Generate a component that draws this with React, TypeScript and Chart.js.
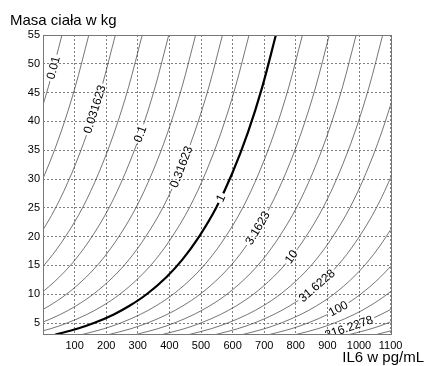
import React, { useEffect, useRef } from 'react';
import { Chart, registerables } from 'chart.js';

Chart.register(...registerables);

// Mass (kg) sample points along each contour line
const MASS = [3, 4, 5, 6.5, 8, 10, 13, 16, 20, 25, 31, 38, 46, 55];

// Contour levels (quarter-decade steps), level 1 drawn thick
const LEVELS = [
  0.01, 0.017783, 0.031623, 0.056234, 0.1, 0.17783, 0.31623, 0.56234, 1,
  1.7783, 3.1623, 5.6234, 10, 17.783, 31.6228, 56.2341, 100, 177.8279,
  316.2278, 562.3413, 1000,
];

// IL6 (pg/mL) position of each contour line at the MASS sample points
const IL6_LINES = [
  [-638, -569, -516, -453, -403, -349, -286, -236, -183, -129, -78, -29, 17, 60],
  [-553, -484, -431, -368, -318, -264, -201, -151, -98, -44, 7, 56, 102, 145],
  [-469, -400, -347, -284, -234, -180, -117, -67, -14, 40, 91, 140, 186, 229],
  [-384, -315, -262, -199, -149, -95, -32, 18, 71, 125, 176, 225, 271, 314],
  [-300, -231, -178, -115, -65, -11, 52, 102, 155, 209, 260, 309, 355, 398],
  [-215, -146, -93, -30, 20, 74, 137, 187, 240, 294, 345, 394, 440, 483],
  [-130, -61, -8, 55, 105, 159, 222, 272, 325, 379, 430, 479, 525, 568],
  [-46, 23, 76, 139, 189, 243, 306, 356, 409, 463, 514, 563, 609, 652],
  [39, 108, 161, 224, 274, 328, 391, 441, 494, 548, 599, 648, 694, 737],
  [123, 192, 245, 308, 358, 412, 475, 525, 578, 632, 683, 732, 778, 821],
  [208, 277, 330, 393, 443, 497, 560, 610, 663, 717, 768, 817, 863, 906],
  [293, 362, 415, 478, 528, 582, 645, 695, 748, 802, 853, 902, 948, 991],
  [377, 446, 499, 562, 612, 666, 729, 779, 832, 886, 937, 986, 1032, 1075],
  [462, 531, 584, 647, 697, 751, 814, 864, 917, 971, 1022, 1071, 1117, 1160],
  [546, 615, 668, 731, 781, 835, 898, 948, 1001, 1055, 1106, 1155, 1201, 1244],
  [631, 700, 753, 816, 866, 920, 983, 1033, 1086, 1140, 1191, 1240, 1286, 1329],
  [716, 785, 838, 901, 951, 1005, 1068, 1118, 1171, 1225, 1276, 1325, 1371, 1414],
  [800, 869, 922, 985, 1035, 1089, 1152, 1202, 1255, 1309, 1360, 1409, 1455, 1498],
  [885, 954, 1007, 1070, 1120, 1174, 1237, 1287, 1340, 1394, 1445, 1494, 1540, 1583],
  [969, 1038, 1091, 1154, 1204, 1258, 1321, 1371, 1424, 1478, 1529, 1578, 1624, 1667],
  [1054, 1123, 1176, 1239, 1289, 1343, 1406, 1456, 1509, 1563, 1614, 1663, 1709, 1752],
];

// Inline contour labels: which line, text, and the mass where the label sits
const LABEL_LINE = [0, 2, 4, 6, 8, 10, 12, 14, 16, 18];
const LABEL_TEXT = ['0.01', '0.031623', '0.1', '0.31623', '1', '3.1623', '10', '31.6228', '100', '316.2278'];
const LABEL_MASS = [49.3, 42.1, 37.8, 32.1, 26.7, 21.5, 16.5, 11.5, 7.5, 4.27];

const X_TICKS = [100, 200, 300, 400, 500, 600, 700, 800, 900, 1000, 1100];
const Y_TICKS = [5, 10, 15, 20, 25, 30, 35, 40, 45, 50, 55];

const Y_TITLE = 'Masa ciała w kg';
const X_TITLE = 'IL6 w pg/mL';

const THICK_LEVEL = 1;
const FONT = '"Liberation Sans", Arial, Helvetica, sans-serif';
const LABEL_FONT_SIZE = 12;

function labelGeometry(chart: any) {
  const xs = chart.scales.x;
  const ys = chart.scales.y;
  const ctx = chart.ctx;
  ctx.save();
  ctx.font = `${LABEL_FONT_SIZE}px ${FONT}`;
  const out = LABEL_LINE.map((li, j) => {
    const line = IL6_LINES[li];
    const m = LABEL_MASS[j];
    let i = 0;
    while (i < MASS.length - 2 && MASS[i + 1] < m) i++;
    const t = (m - MASS[i]) / (MASS[i + 1] - MASS[i]);
    const il6 = line[i] + t * (line[i + 1] - line[i]);
    const px = xs.getPixelForValue(il6);
    const py = ys.getPixelForValue(m);
    const ax = xs.getPixelForValue(line[i + 1]) - xs.getPixelForValue(line[i]);
    const ay = ys.getPixelForValue(MASS[i + 1]) - ys.getPixelForValue(MASS[i]);
    const angle = Math.atan2(ay, ax);
    const w = ctx.measureText(LABEL_TEXT[j]).width;
    return { px, py, angle, w, text: LABEL_TEXT[j] };
  });
  ctx.restore();
  return out;
}

const contourLabelPlugin = {
  id: 'contourLabels',
  beforeDatasetsDraw(chart: any) {
    const ctx = chart.ctx;
    const geo = labelGeometry(chart);
    ctx.save();
    ctx.beginPath();
    ctx.rect(0, 0, chart.width, chart.height);
    geo.forEach((g) => {
      const hw = g.w / 2 + 2;
      const hh = 5.5;
      const c = Math.cos(g.angle);
      const s = Math.sin(g.angle);
      const pts = [
        [-hw, -hh],
        [hw, -hh],
        [hw, hh],
        [-hw, hh],
      ].map(([u, v]) => [g.px + u * c - v * s, g.py + u * s + v * c]);
      ctx.moveTo(pts[0][0], pts[0][1]);
      for (let k = 1; k < 4; k++) ctx.lineTo(pts[k][0], pts[k][1]);
      ctx.closePath();
    });
    ctx.clip('evenodd');
  },
  afterDatasetsDraw(chart: any) {
    const ctx = chart.ctx;
    ctx.restore();
    const geo = labelGeometry(chart);
    const a = chart.chartArea;
    ctx.save();
    ctx.beginPath();
    ctx.rect(a.left, a.top, a.right - a.left, a.bottom - a.top);
    ctx.clip();
    ctx.font = `${LABEL_FONT_SIZE}px ${FONT}`;
    ctx.fillStyle = '#000';
    ctx.textAlign = 'center';
    ctx.textBaseline = 'middle';
    geo.forEach((g) => {
      ctx.save();
      ctx.translate(g.px, g.py);
      ctx.rotate(g.angle);
      ctx.fillText(g.text, 0, 0.5);
      ctx.restore();
    });
    ctx.restore();
  },
  afterDraw(chart: any) {
    const ctx = chart.ctx;
    const a = chart.chartArea;
    ctx.save();
    ctx.strokeStyle = '#777';
    ctx.lineWidth = 1;
    ctx.strokeRect(Math.round(a.left) + 0.5, Math.round(a.top) + 0.5, Math.round(a.right - a.left), Math.round(a.bottom - a.top));
    ctx.fillStyle = '#000';
    ctx.font = `15px ${FONT}`;
    ctx.textBaseline = 'alphabetic';
    ctx.textAlign = 'left';
    ctx.fillText(Y_TITLE, 10, 25);
    ctx.textAlign = 'right';
    ctx.fillText(X_TITLE, 424, 361.5);
    ctx.restore();
  },
};

export default function App() {
  const ref = useRef<HTMLCanvasElement | null>(null);

  useEffect(() => {
    if (!ref.current) return;
    const datasets = IL6_LINES.map((xs, k) => ({
      label: String(LEVELS[k]),
      data: xs.map((x, i) => ({ x, y: MASS[i] })),
      borderColor: LEVELS[k] === THICK_LEVEL ? '#000' : '#3a3a3a',
      borderWidth: LEVELS[k] === THICK_LEVEL ? 2.2 : 0.7,
      pointRadius: 0,
      fill: false,
      cubicInterpolationMode: 'monotone' as const,
    }));
    const chart = new Chart(ref.current, {
      type: 'line',
      data: { datasets },
      options: {
        animation: false,
        responsive: false,
        events: [],
        layout: { padding: { left: 0, top: 35, right: 36.4, bottom: 0 } },
        elements: { line: { capBezierPoints: false } },
        plugins: { legend: { display: false }, tooltip: { enabled: false }, title: { display: false } },
        scales: {
          x: {
            type: 'linear',
            min: 0,
            max: 1100,
            afterBuildTicks: (s: any) => {
              s.ticks = X_TICKS.map((v) => ({ value: v }));
            },
            afterFit: (s: any) => {
              s.height = 32;
            },
            grid: { color: '#808080', lineWidth: 1, drawTicks: false },
            border: { display: false, dash: [2, 2] },
            ticks: {
              padding: 5,
              color: '#000',
              font: { family: FONT, size: 11 },
              maxRotation: 0,
              autoSkip: false,
              callback: (v: any) => String(v),
            },
          },
          y: {
            type: 'linear',
            min: 3.1,
            max: 55,
            afterBuildTicks: (s: any) => {
              s.ticks = Y_TICKS.map((v) => ({ value: v }));
            },
            afterFit: (s: any) => {
              s.width = 43;
            },
            grid: { color: '#808080', lineWidth: 1, drawTicks: false },
            border: { display: false, dash: [2, 2] },
            ticks: {
              padding: 3,
              color: '#000',
              font: { family: FONT, size: 11 },
              autoSkip: false,
              callback: (v: any) => String(v),
            },
          },
        },
      },
      plugins: [contourLabelPlugin],
    } as any);
    return () => chart.destroy();
  }, []);

  return (
    <div style={{ position: 'fixed', left: 0, top: 0, width: 427, height: 366, background: '#fff' }}>
      <canvas ref={ref} width={427} height={366} style={{ width: 427, height: 366, display: 'block' }} />
    </div>
  );
}
